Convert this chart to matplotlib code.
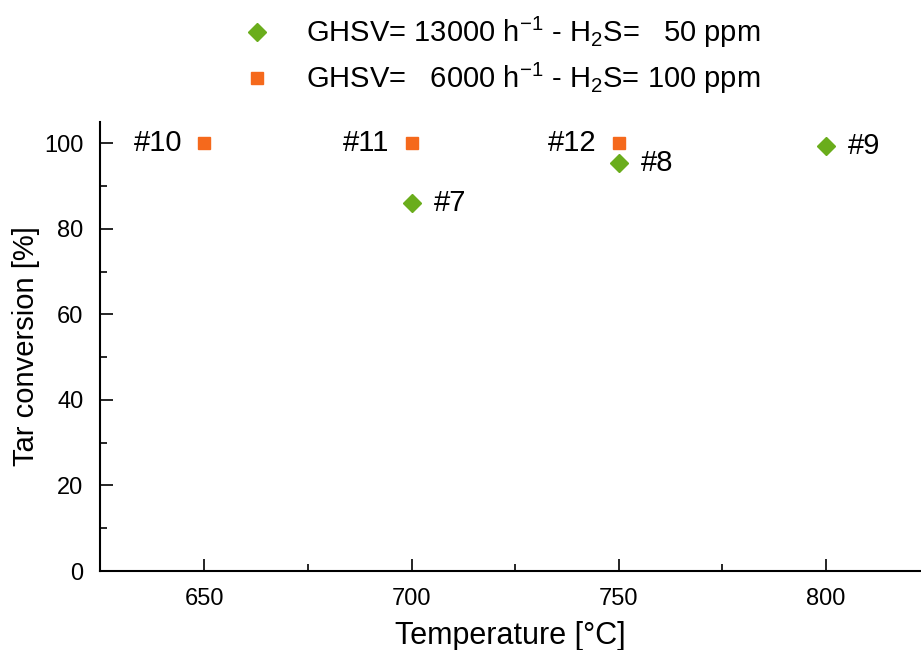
import numpy as np
import matplotlib
matplotlib.use('Agg')
import matplotlib.pyplot as plt

plt.rcParams['font.family'] = ['Liberation Sans', 'DejaVu Sans']
plt.rcParams['mathtext.fontset'] = 'custom'
plt.rcParams['mathtext.rm'] = 'Liberation Sans'
plt.rcParams['mathtext.it'] = 'Liberation Sans'
plt.rcParams['mathtext.default'] = 'regular'

# series 1: GHSV 13000, 50 ppm H2S
temp_a = [700, 750, 800]
conv_a = [86.0, 95.4, 99.3]
runs_a = ['#7', '#8', '#9']

# series 2: GHSV 6000, 100 ppm H2S
temp_b = [650, 700, 750]
conv_b = [100.0, 100.0, 100.0]
runs_b = ['#10', '#11', '#12']

label_a = 'GHSV= 13000 h$^{-1}$ - H$_2$S=   50 ppm'
label_b = 'GHSV=   6000 h$^{-1}$ - H$_2$S= 100 ppm'

green = '#6aad1c'
orange = '#f5691c'

fig = plt.figure(figsize=(9.21, 6.5), dpi=100)
ax = fig.add_axes([0.1086, 0.1215, 0.8914, 0.6908])

ax.plot(temp_a, conv_a, 'D', color=green, markersize=9, linestyle='none', label=label_a)
ax.plot(temp_b, conv_b, 's', color=orange, markersize=8.5, linestyle='none', label=label_b)

for x, y, t in zip(temp_a, conv_a, runs_a):
    ax.annotate(t, (x, y), xytext=(16, 0), textcoords='offset points',
                ha='left', va='center', fontsize=21)
for x, y, t in zip(temp_b, conv_b, runs_b):
    ax.annotate(t, (x, y), xytext=(-16, 0), textcoords='offset points',
                ha='right', va='center', fontsize=21)

ax.set_xlim(624.8, 823)
ax.set_ylim(0, 105)
ax.set_xticks([650, 700, 750, 800])
ax.set_xticks([675, 725, 775], minor=True)
ax.set_yticks([0, 20, 40, 60, 80, 100])
ax.set_yticks([10, 30, 50, 70, 90], minor=True)
ax.tick_params(which='major', direction='in', length=9, width=1.2, labelsize=17, pad=12)
ax.tick_params(which='minor', direction='in', length=5, width=1.2)
ax.spines['top'].set_visible(False)
ax.spines['right'].set_visible(False)
ax.spines['left'].set_linewidth(1.5)
ax.spines['bottom'].set_linewidth(1.5)

ax.set_xlabel('Temperature [°C]', fontsize=22, labelpad=8)
ax.set_ylabel('Tar conversion [%]', fontsize=21, labelpad=3)

fig.legend(loc='upper center', bbox_to_anchor=(0.543, 1.017), frameon=False,
           fontsize=21, handletextpad=1.1, labelspacing=0.35, handlelength=1.2)

plt.savefig('out.png', dpi=100)
